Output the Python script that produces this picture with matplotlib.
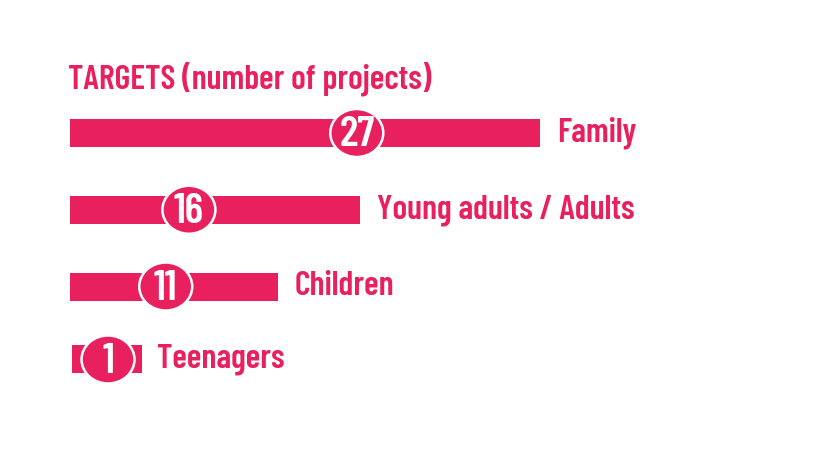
import matplotlib.pyplot as plt
from matplotlib.patches import Ellipse

# data
categories = ["Family", "Young adults / Adults", "Children", "Teenagers"]
counts = [27, 16, 11, 1]

PINK = "#E8205E"
FONT = ["Barlow Condensed", "DejaVu Sans"]

# layout (pixel-ish tuning)
px_per_unit = 16.375
pad = 1.71          # extra bar length beyond value
min_len = 4.3       # shortest bar so badge fits
badge_frac = [0.61, 0.41, 0.46, 0.54]
row_px = 76.0

fig = plt.figure(figsize=(8.34, 4.70), dpi=100)
ax = fig.add_axes([0, 0, 1, 1])
ax.set_xlim(-70 / px_per_unit, (834 - 70) / px_per_unit)
ax.set_ylim((470 - 133) / row_px, -133 / row_px)
ax.axis("off")

ys = [0, 1.01, 2.02, 2.98]
for i, (cat, v) in enumerate(zip(categories, counts)):
    y = ys[i]
    length = max(v + pad, min_len)
    ax.barh(y, length, height=28 / row_px, left=0 if v > 1 else 0.12,
            color=PINK, edgecolor="none")
    cx = length * badge_frac[i]
    ax.add_patch(Ellipse((cx, y), width=53 / px_per_unit, height=48 / row_px,
                         facecolor=PINK, edgecolor="white", linewidth=1.8, zorder=3))
    ax.text(cx, y + 0.03, str(v), ha="center", va="center", color="white",
            fontsize=31, fontweight="semibold", family=FONT, zorder=4)
    ax.annotate(cat, (length, y), xytext=(12, 0), textcoords="offset points",
                ha="left", va="center", color=PINK, fontsize=24.5,
                fontweight="semibold", family=FONT)

fig.text(68 / 834, 1 - 89 / 470, "TARGETS (number of projects)", ha="left",
         va="baseline", color=PINK, fontsize=24.5, fontweight="semibold", family=FONT)

fig.savefig("out.png", dpi=100, facecolor="white")
